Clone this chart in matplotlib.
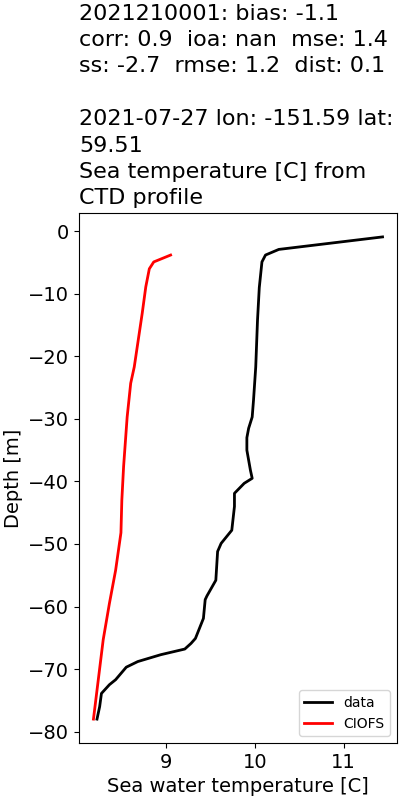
import matplotlib
matplotlib.use("Agg")
import matplotlib.pyplot as plt

data_temp = [11.44, 10.27, 10.12, 10.08, 10.05, 10.03, 10.01, 9.985, 9.97, 9.93, 9.91, 9.91, 9.95, 9.97,
             9.88, 9.77, 9.77, 9.74, 9.62, 9.58, 9.56, 9.52, 9.46, 9.44, 9.42, 9.33, 9.28, 9.21,
             8.94, 8.68, 8.55, 8.49, 8.43, 8.36, 8.27, 8.25, 8.22]
data_depth = [-0.9, -2.9, -3.8, -4.9, -9.0, -14.2, -21.7, -27.0, -29.7, -31.5, -33.0, -35.0, -38.2, -39.5,
              -40.3, -41.9, -44.0, -47.8, -49.9, -51.2, -55.8, -56.8, -58.3, -58.9, -61.9, -65.1, -65.9, -66.8,
              -67.7, -68.8, -69.7, -70.7, -71.7, -72.5, -73.9, -76.0, -78.0]

model_temp = [9.05, 8.86, 8.81, 8.77, 8.73, 8.64, 8.60, 8.56, 8.52, 8.50, 8.49, 8.43, 8.36, 8.29, 8.18]
model_depth = [-3.8, -4.9, -6.0, -8.9, -13.1, -21.7, -24.3, -29.7, -37.6, -43.0, -48.2, -54.2, -59.5,
               -65.3, -78.0]

title = ("2021210001: bias: -1.1\ncorr: 0.9  ioa: nan  mse: 1.4\nss: -2.7  rmse: 1.2  dist: 0.1\n\n"
         "2021-07-27 lon: -151.59 lat:\n59.51\nSea temperature [C] from\nCTD profile")

fig = plt.figure(figsize=(4, 8), dpi=100)
ax = fig.add_axes([0.1975, 0.071, 0.795, 0.663])
ax.plot(data_temp, data_depth, color="black", lw=2, label="data")
ax.plot(model_temp, model_depth, color="red", lw=2, label="CIOFS")
ax.set_xlabel("Sea water temperature [C]", fontsize=14)
ax.set_ylabel("Depth [m]", fontsize=14)
ax.tick_params(labelsize=14)
ax.set_title(title, loc="left", fontsize=16, linespacing=1.40)
ax.legend(loc="lower right", fontsize=10)
fig.savefig("out.png", dpi=100)
